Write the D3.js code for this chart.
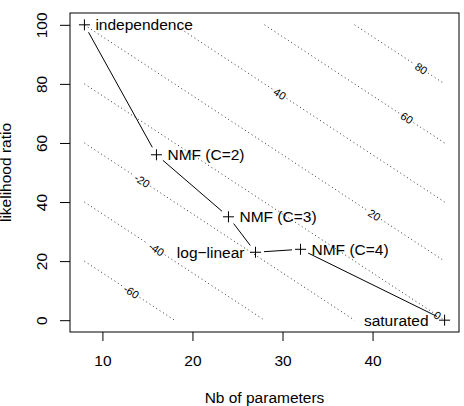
<!DOCTYPE html>
<html>
  <head>
    <meta charset="utf-8">
    <script src="https://cdn.jsdelivr.net/npm/d3@7"></script>
    <style>
      body { margin: 0; background: #fff; }
      text { font-family: "Liberation Sans", Arial, sans-serif; }
    </style>
  </head>
  <body>
    <svg width="464" height="406"></svg>
    <script>

        // Models: number of parameters and likelihood ratio
        var models = ["independence", "NMF (C=2)", "NMF (C=3)", "log\u2212linear", "NMF (C=4)", "saturated"];
        var params = [8, 16, 24, 27, 32, 48];
        var lratio = [100, 56, 35, 23, 24, 0];
        var labelSide = ["right", "right", "right", "left", "right", "left"];

        // Contour levels (AIC difference to saturated model) and where the label sits (x in data units)
        var levels = [-60, -40, -20, 0, 20, 40, 60, 80];
        var levelLabelX = [13.2, 16.0, 14.4, 47.2, 40.2, 29.7, 43.8, 45.4];

        var xTicks = [10, 20, 30, 40];
        var yTicks = [0, 20, 40, 60, 80, 100];

        var svg = d3.select("svg");
        // note: "top" is taken by window.top, so use plot* names
        var plotLeft = 70, plotRight = 459, plotTop = 13, plotBottom = 332;
        var fontSize = 15.5;

        // R style 4% extension of the data range
        var xmin = d3.min(params), xmax = d3.max(params);
        var ymin = d3.min(lratio), ymax = d3.max(lratio);
        var xpad = (xmax - xmin) * 0.04, ypad = (ymax - ymin) * 0.04;

        var x = d3.scaleLinear().domain([xmin - xpad, xmax + xpad]).range([plotLeft, plotRight]);
        var y = d3.scaleLinear().domain([ymin - ypad, ymax + ypad]).range([plotBottom, plotTop]);

        // AIC difference: LR - 2 * (df difference to saturated)
        function contourY(level, px) {
          return level + 2 * (xmax - px);
        }

        // Contour lines, clipped to the grid [xmin,xmax] x [ymin,ymax]
        var angle = Math.atan2(y(contourY(0, 1)) - y(contourY(0, 0)), x(1) - x(0)) * 180 / Math.PI;
        var contours = svg.append("g");
        levels.forEach(function(lev, i) {
          var xa = Math.max(xmin, xmax - (ymax - lev) / 2);
          var xb = Math.min(xmax, xmax - (ymin - lev) / 2);
          if (xb <= xa) return;
          var p0 = [x(xa), y(contourY(lev, xa))];
          var p1 = [x(xb), y(contourY(lev, xb))];
          var lx = levelLabelX[i];
          var c = [x(lx), y(contourY(lev, lx))];

          var lab = contours.append("text")
            .attr("transform", "translate(" + c[0] + "," + c[1] + ") rotate(" + angle + ")")
            .attr("text-anchor", "middle")
            .attr("dy", "0.35em")
            .style("font-size", "11px")
            .text(String(lev));
          var h = lab.node().getComputedTextLength() / 2 + 2;

          var len = Math.hypot(p1[0] - p0[0], p1[1] - p0[1]);
          var u = [(p1[0] - p0[0]) / len, (p1[1] - p0[1]) / len];
          var dc = (c[0] - p0[0]) * u[0] + (c[1] - p0[1]) * u[1];
          var segs = [[0, dc - h], [dc + h, len]];
          segs.forEach(function(s) {
            if (s[1] - s[0] < 1) return;
            contours.append("line")
              .attr("x1", p0[0] + u[0] * s[0]).attr("y1", p0[1] + u[1] * s[0])
              .attr("x2", p0[0] + u[0] * s[1]).attr("y2", p0[1] + u[1] * s[1])
              .attr("stroke", "#333")
              .attr("stroke-width", 1)
              .attr("stroke-dasharray", "1 3");
          });
        });

        // Connecting line (type "b": gaps around the points)
        var gap = 8.5;
        for (var i = 0; i < params.length - 1; i++) {
          var a = [x(params[i]), y(lratio[i])];
          var b = [x(params[i + 1]), y(lratio[i + 1])];
          var d = Math.hypot(b[0] - a[0], b[1] - a[1]);
          if (d < 2 * gap) continue;
          var ux = (b[0] - a[0]) / d, uy = (b[1] - a[1]) / d;
          svg.append("line")
            .attr("x1", a[0] + ux * gap).attr("y1", a[1] + uy * gap)
            .attr("x2", b[0] - ux * gap).attr("y2", b[1] - uy * gap)
            .attr("stroke", "black")
            .attr("stroke-width", 1);
        }

        // Plus symbols
        svg.selectAll(".pt")
          .data(params)
          .enter()
          .append("path")
          .attr("class", "pt")
          .attr("d", function(d, i) {
            var px = x(d), py = y(lratio[i]), r = 5.5;
            return "M" + (px - r) + "," + py + "H" + (px + r) + "M" + px + "," + (py - r) + "V" + (py + r);
          })
          .attr("stroke", "black")
          .attr("stroke-width", 1)
          .attr("fill", "none");

        // Point labels
        svg.selectAll(".lab")
          .data(models)
          .enter()
          .append("text")
          .attr("class", "lab")
          .attr("x", function(d, i) {
            var off = models[i] === "saturated" ? 16 : 11;
            return labelSide[i] === "right" ? x(params[i]) + off : x(params[i]) - off;
          })
          .attr("y", function(d, i) { return y(lratio[i]); })
          .attr("dy", "0.35em")
          .attr("text-anchor", function(d, i) { return labelSide[i] === "right" ? "start" : "end"; })
          .style("font-size", fontSize + "px")
          .text(function(d) { return d; });

        // Box
        svg.append("rect")
          .attr("x", plotLeft).attr("y", plotTop)
          .attr("width", plotRight - plotLeft).attr("height", plotBottom - plotTop)
          .attr("fill", "none")
          .attr("stroke", "black")
          .attr("stroke-width", 1);

        // X axis
        var xAxis = svg.append("g")
          .attr("transform", "translate(0," + plotBottom + ")")
          .call(d3.axisBottom(x).tickValues(xTicks).tickSize(9).tickPadding(14).tickSizeOuter(0));
        xAxis.select(".domain").remove();
        xAxis.selectAll("text").style("font-size", fontSize + "px").style("font-family", "Liberation Sans, Arial, sans-serif");

        // Y axis
        var yAxis = svg.append("g")
          .attr("transform", "translate(" + plotLeft + ",0)")
          .call(d3.axisLeft(y).tickValues(yTicks).tickSize(10).tickSizeOuter(0));
        yAxis.select(".domain").remove();
        yAxis.selectAll("text")
          .attr("x", null).attr("dy", null)
          .attr("text-anchor", "middle")
          .attr("transform", "translate(-23,0) rotate(-90)")
          .style("font-size", fontSize + "px")
          .style("font-family", "Liberation Sans, Arial, sans-serif");

        // Axis titles
        svg.append("text")
          .attr("x", (plotLeft + plotRight) / 2)
          .attr("y", 403)
          .attr("text-anchor", "middle")
          .style("font-size", fontSize + "px")
          .text("Nb of parameters");

        svg.append("text")
          .attr("transform", "translate(11," + ((plotTop + plotBottom) / 2) + ") rotate(-90)")
          .attr("text-anchor", "middle")
          .style("font-size", fontSize + "px")
          .text("likelihood ratio");

    </script>
  </body>
</html>
